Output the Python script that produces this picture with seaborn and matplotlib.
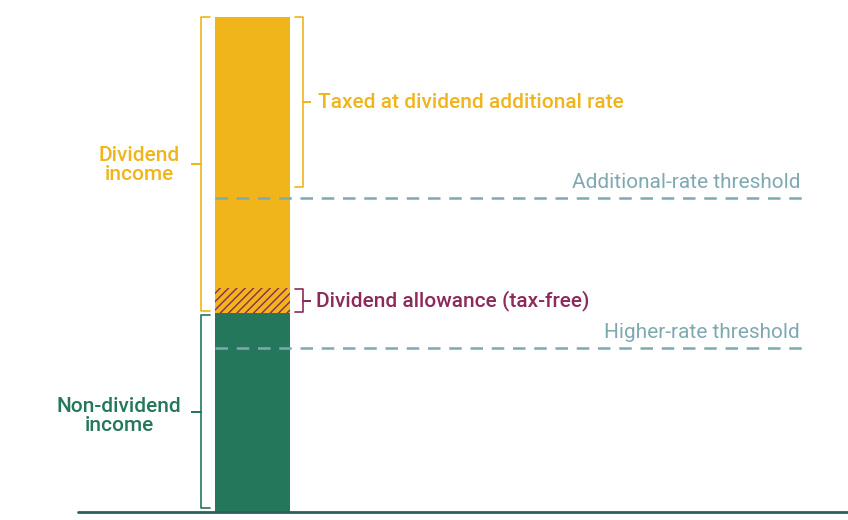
import matplotlib
matplotlib.use("Agg")
import matplotlib.pyplot as plt
import seaborn as sns
import pandas as pd

segments = ["Non-dividend income", "Dividend allowance", "Taxed at dividend additional rate"]
heights = [199, 25, 271]
thresholds = ["Higher-rate threshold", "Additional-rate threshold"]
threshold_vals = [164, 314]

YEL = "#F0B51B"; GRN = "#24775A"; RED = "#8C2A5A"; TEAL = "#7FA9B1"

sns.set_theme(style="white")
plt.rcParams['font.family'] = ['Roboto', 'DejaVu Sans']
plt.rcParams['hatch.color'] = RED
plt.rcParams['hatch.linewidth'] = 1.0
fig = plt.figure(figsize=(8.48, 5.2), dpi=100)
ax = fig.add_axes([0, 0, 1, 1])
ax.set_xlim(0, 848); ax.set_ylim(-8, 512)
ax.axis("off")

X = 252.5; W = 75
df = pd.DataFrame({"x": [X], "h": [heights[0]]})
sns.barplot(data=df, x="x", y="h", native_scale=True, width=W, color=GRN, saturation=1, ax=ax, linewidth=0)
b1 = heights[0]
ax.bar(X, heights[1], W, bottom=b1, color=YEL, edgecolor=RED, hatch="////", linewidth=0)
b2 = b1 + heights[1]
ax.bar(X, heights[2], W, bottom=b2, color=YEL, linewidth=0)

ax.plot([78, 848], [0, 0], color="#2E5E5A", lw=2)
for name, v in zip(thresholds, threshold_vals):
    ax.plot([215, 805], [v, v], color=TEAL, lw=1.8, ls=(0, (5, 3.5)))
    ax.text(800, v + 6, name, color=TEAL, fontsize=15, ha="right", va="bottom")

def brace(y0, y1, x_edge, x_tip, color, lw=1.2):
    ym = (y0 + y1) / 2
    xm = (x_edge + x_tip) / 2
    ax.plot([x_edge, xm, xm, x_tip, xm, xm, x_edge], [y0, y0, ym, ym, ym, y1, y1], color=color, lw=lw)

brace(b1 + 2, 495, 210, 192, YEL)
brace(4, b1 - 2, 210, 192, GRN)
brace(325, 495, 295, 310, YEL)
brace(b1 + 1, b2 - 1, 295, 310, RED)

ax.text(139, 347, "Dividend\nincome", color=YEL, fontsize=15, fontweight="medium", ha="center", va="center", linespacing=1.0)
ax.text(119, 96, "Non-dividend\nincome", color=GRN, fontsize=15, fontweight="medium", ha="center", va="center", linespacing=1.0)
ax.text(318, 410, "Taxed at dividend additional rate", color=YEL, fontsize=15, fontweight="medium", ha="left", va="center")
ax.text(316, b1 + 12.5, "Dividend allowance (tax-free)", color=RED, fontsize=15, fontweight="medium", ha="left", va="center")

fig.savefig("out.png", dpi=100)
